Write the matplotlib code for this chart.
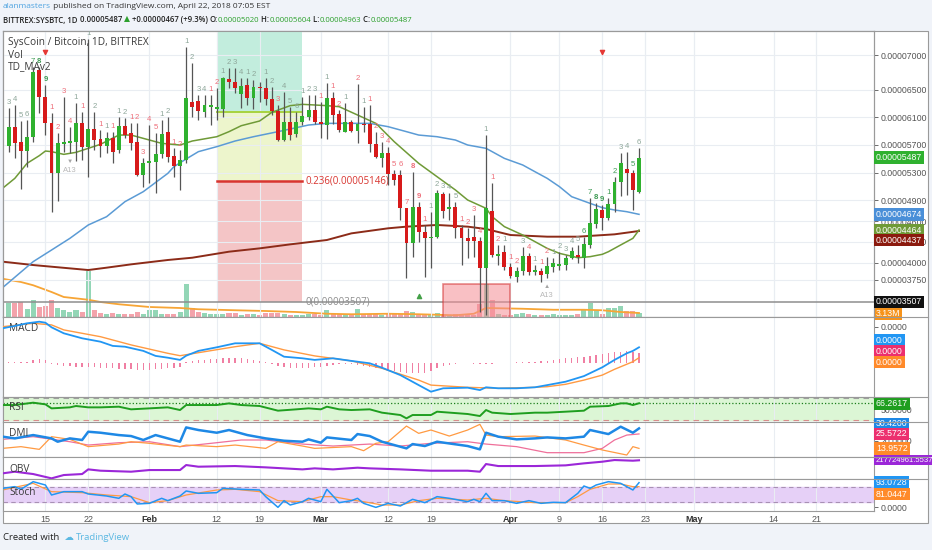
import matplotlib.pyplot as plt
from matplotlib.lines import Line2D
from matplotlib.patches import Rectangle

W, H = 932, 550
UI_FONT = ['Open Sans', 'DejaVu Sans']
AX_FONT = ['Liberation Sans', 'DejaVu Sans']
plt.rcParams['font.family'] = AX_FONT

# ---------------- data ----------------
# day 0 = Jan 9 2018, one daily candle up to Apr 22 (day 103)
tick_days = [6, 13, 23, 34, 41, 51, 62, 69, 82, 90, 97, 104, 112, 125, 132]
tick_labels = ['15', '22', 'Feb', '12', '19', 'Mar', '12', '19', 'Apr', '9', '16', '23', 'May', '14', '21']
month_labels = ['Feb', 'Mar', 'Apr', 'May']

# prices in satoshi (1e-8 BTC)
opens = [5689, 5964, 5738, 5612, 5819, 6783, 6398, 6022, 5299, 5709,
         5723, 5738, 6012, 5675, 5925, 5786, 5689, 5795, 5627, 5978,
         5877, 5738, 5265, 5434, 5458, 5569, 5880, 5545, 5400, 5482,
         6325, 6335, 6181, 6253, 6219, 6219, 6648, 6605, 6431, 6566,
         6383, 6528, 6528, 6364, 6190, 5771, 6026, 5858, 6026, 6109,
         6205, 6026, 5988, 6383, 6147, 5892, 6026, 5906, 6002, 5998,
         5713, 5516, 5579, 5275, 5265, 4784, 4278, 4798, 4437, 4350,
         4374, 4991, 4769, 4798, 4504, 4350, 4374, 4316, 3916, 4745,
         4099, 4157, 3940, 3796, 3883, 4099, 3868, 3883, 3830, 3931,
         3955, 3964, 4070, 4109, 4070, 4254, 4552, 4760, 4649, 4841,
         5169, 5352, 5289, 5025]
highs = [6229, 6277, 6046, 6060, 6831, 6831, 6566, 6157, 5868, 6398,
         5964, 6301, 6181, 7230, 6181, 5916, 5892, 5892, 6109, 6084,
         6012, 6012, 5506, 5988, 5868, 6060, 6109, 5651, 5627, 7120,
         6879, 6422, 6422, 6422, 6518, 6687, 6807, 6807, 6663, 6663,
         6639, 6614, 6663, 6542, 6277, 6470, 6253, 6181, 6398, 6422,
         6422, 6325, 6590, 6470, 6205, 6301, 6060, 6576, 6253, 6277,
         5892, 5747, 5675, 5338, 5338, 4790, 5313, 4880, 4543, 4735,
         5049, 5025, 5001, 4880, 4543, 4495, 4687, 4374, 5843, 5145,
         4254, 4254, 3989, 3940, 4229, 4133, 3964, 3916, 4085, 4061,
         4157, 4109, 4220, 4254, 4374, 4928, 4856, 4832, 4928, 5241,
         5579, 5603, 5338, 5651]
lows = [5593, 5516, 5063, 5386, 5747, 6157, 5843, 4735, 4894, 5603,
        5579, 5468, 5482, 5241, 5627, 5530, 5579, 5444, 5579, 5795,
        5627, 5255, 5097, 5145, 5001, 5506, 5458, 5241, 5049, 5434,
        6109, 6060, 6109, 5988, 6060, 6109, 6518, 6446, 6229, 6277,
        6219, 6325, 6277, 6133, 5757, 5757, 5771, 5819, 5988, 6060,
        5998, 5795, 5786, 5998, 5892, 5880, 5892, 5723, 5892, 5593,
        5506, 5386, 5121, 5121, 4615, 3772, 4085, 4302, 3796, 3916,
        4350, 4639, 4615, 4350, 3964, 4061, 4085, 3290, 3242, 4085,
        3964, 3892, 3772, 3724, 3820, 3820, 3820, 3724, 3772, 3868,
        3892, 3892, 4051, 3988, 3916, 4205, 4494, 4470, 4615, 4735,
        4967, 4976, 4759, 5001]
closes = [5964, 5733, 5612, 5819, 6759, 6398, 6012, 5299, 5723, 5738,
          5757, 6012, 5675, 5930, 5771, 5689, 5795, 5593, 5978, 5843,
          5733, 5265, 5434, 5468, 5569, 5860, 5530, 5400, 5482, 6374,
          6243, 6190, 6277, 6277, 6253, 6663, 6614, 6518, 6557, 6383,
          6542, 6522, 6364, 6190, 5771, 6026, 5843, 6026, 6123, 6205,
          6026, 5998, 6374, 6133, 5916, 6026, 5901, 6002, 5988, 5709,
          5530, 5579, 5275, 5193, 4793, 4278, 4798, 4437, 4350, 4374,
          5001, 4745, 4798, 4504, 4360, 4316, 4311, 3916, 4784, 4109,
          4123, 3940, 3810, 3883, 4099, 3868, 3892, 3820, 3950, 3998,
          3974, 4070, 4172, 4075, 4263, 4567, 4769, 4639, 4846, 5169,
          5434, 5289, 5049, 5516]
# volume, millions
volumes = [11.2, 11.2, 12.0, 6.4, 13.6, 8.0, 8.8, 13.6, 7.2, 5.6,
           4.0, 5.6, 4.0, 36.8, 5.6, 3.2, 2.4, 3.2, 2.4, 2.4,
           2.4, 4.0, 2.4, 5.6, 5.6, 2.4, 2.4, 2.4, 4.0, 26.4,
           7.2, 4.0, 3.2, 2.4, 2.4, 2.4, 3.2, 3.2, 1.6, 2.4,
           2.4, 1.6, 3.2, 3.2, 3.2, 2.4, 1.6, 1.6, 1.6, 2.4,
           2.4, 1.6, 5.6, 2.4, 2.4, 2.4, 2.4, 6.4, 2.4, 2.4,
           2.4, 1.6, 2.4, 2.4, 2.4, 4.8, 4.0, 2.4, 1.6, 2.4,
           3.2, 2.4, 1.6, 2.4, 2.4, 2.4, 1.6, 10.4, 26.4, 13.6,
           2.4, 1.6, 1.6, 2.4, 3.2, 2.4, 1.6, 1.6, 1.6, 2.4,
           1.6, 1.6, 1.6, 2.4, 5.6, 11.2, 5.6, 2.4, 7.2, 7.2,
           8.8, 4.8, 4.8, 3.13]
vol_ma_days = [-1, 2, 4, 7, 9, 13, 15, 18, 23, 28, 31, 37, 42, 47, 52, 56, 62, 67, 73, 76, 78, 84, 89, 94, 97, 100, 103]
vol_ma = [30.6, 28, 25.4, 20, 16, 13.8, 12, 10.2, 8, 7.2, 6.2, 5.4, 4.8, 4, 2.6, 2.2, 2.6, 2.2, 1.4, 2.6, 7.2, 6.6, 5.8, 5.8, 5.4, 4, 3.2]

# moving averages on price
ma_fast_days = [-1, 1, 3, 5, 6, 7, 9, 11, 13, 15, 18, 20, 22, 25, 28, 30, 34, 36, 38, 41, 43, 46, 48, 52, 54, 57, 60,
                63, 67, 70, 73, 75, 78, 79, 81, 84, 86, 88, 90, 93, 95, 97, 98, 100, 102, 103]
ma_fast = [5073, 5217, 5434, 5545, 5612, 5603, 5564, 5593, 5651, 5709, 5843, 5843, 5795, 5723, 5699, 5757, 5819, 5892,
           5978, 6046, 6171, 6268, 6287, 6268, 6253, 6133, 6012, 5747, 5434, 5241, 5049, 4904, 4784, 4663, 4519, 4398,
           4302, 4205, 4133, 4070, 4085, 4119, 4157, 4254, 4350, 4470]
ma_mid_days = [-1, 4, 7, 10, 13, 16, 19, 22, 26, 27, 29, 31, 34, 37, 40, 44, 49, 52, 56, 59, 62, 65, 67, 70, 73, 75,
               78, 79, 81, 84, 86, 88, 90, 92, 95, 97, 99, 101, 103]
ma_mid = [3637, 4013, 4181, 4350, 4543, 4663, 4880, 5025, 5289, 5386, 5497, 5603, 5675, 5757, 5819, 5892, 5988, 6012,
          6012, 6012, 5964, 5892, 5843, 5819, 5771, 5699, 5651, 5603, 5506, 5410, 5313, 5217, 5097, 4952, 4856, 4793,
          4760, 4735, 4697]
ma_slow_days = [-1, 4, 10, 13, 16, 20, 26, 30, 36, 41, 46, 52, 56, 62, 65, 70, 75, 78, 82, 88, 93, 99, 103]
ma_slow = [4013, 3964, 3916, 3892, 3926, 3974, 4037, 4070, 4157, 4205, 4263, 4326, 4422, 4495, 4519, 4543, 4519, 4485,
           4398, 4374, 4374, 4408, 4456]

# fibonacci drawing (Feb 12 - Feb 26) and rectangle (Mar 21 - Apr 1)
fib_days = [34, 48]
fib_prices = [3430, 5183, 6176, 10860]   # levels 0, 0.236, 0.382, 1
rect_days = [71, 82]
rect_prices = [3200, 3694]

# TD sequential counts: (candle, text, kind)
td_counts = [(0, '3', 's'), (1, '4', 's'), (2, '5', 's'), (3, '6', 's'), (4, '7', 'G'), (5, '8', 'G'), (6, '9', 'G'),
             (7, '1', 'r'), (8, '2', 'r'), (9, '3', 'r'), (10, '4', 'r'), (11, '1', 's'), (12, '1', 'r'), (13, '1', 's'),
             (14, '2', 's'), (15, '1', 'r'), (16, '1', 's'), (17, '1', 'r'), (18, '1', 's'), (19, '2', 's'),
             (20, '1', 'r'), (21, '2', 'r'), (22, '3', 'r'), (23, '4', 'r'), (24, '5', 'r'), (25, '1', 's'),
             (26, '2', 's'), (27, '1', 'r'), (28, '2', 'r'), (29, '1', 's'), (30, '2', 's'), (31, '3', 's'),
             (32, '4', 's'), (33, '1', 'r'), (34, '2', 'r'), (35, '1', 's'), (36, '2', 's'), (37, '3', 's'),
             (38, '4', 's'), (39, '1', 's'), (40, '2', 's'), (42, '1', 's'), (43, '2', 's'), (44, '3', 'r'),
             (45, '4', 's'), (46, '5', 's'), (47, '6', 's'), (48, '1', 's'), (49, '2', 's'), (50, '3', 's'),
             (51, '1', 'r'), (52, '1', 's'), (53, '1', 'r'), (54, '2', 'r'), (55, '1', 's'), (57, '2', 'r'),
             (58, '1', 's'), (59, '1', 'r'), (60, '2', 'r'), (61, '3', 'r'), (62, '4', 'r'), (63, '5', 'r'),
             (64, '6', 'r'), (65, '7', 'r'), (66, '8', 'r'), (67, '9', 'r'), (68, '1', 'r'), (69, '1', 's'),
             (70, '2', 's'), (71, '3', 's'), (72, '4', 's'), (73, '5', 's'), (74, '1', 'r'), (75, '2', 'r'),
             (76, '3', 'r'), (77, '4', 'r'), (78, '1', 's'), (79, '1', 'r'), (80, '2', 'r'), (81, '1', 's'),
             (82, '1', 'r'), (83, '2', 'r'), (84, '3', 's'), (85, '4', 'r'), (86, '1', 's'), (87, '1', 'r'),
             (88, '2', 'r'), (89, '1', 's'), (90, '2', 's'), (91, '3', 's'), (92, '4', 's'), (93, '5', 's'),
             (94, '6', 'G'), (95, '7', 'G'), (96, '8', 'G'), (97, '9', 'G'), (98, '1', 'G'), (99, '2', 'G'),
             (100, '3', 's'), (101, '4', 's'), (102, '5', 'G'), (103, '6', 's')]
sell_signal_days = [6, 97]
buy_signal_days = [67]

# MACD (satoshi)
macd_days = [-1, 1, 3, 5, 6, 7, 9, 12, 15, 17, 19, 22, 24, 26, 28, 29, 31, 34, 37, 41, 43, 45, 48, 50, 53, 56, 59, 61,
             64, 67, 69, 71, 75, 77, 78, 80, 83, 86, 88, 91, 94, 97, 99, 101, 102, 103]
macd = [172, 184, 197, 205, 200, 177, 147, 122, 105, 84, 80, 59, 34, 25, 14, 35, 59, 77, 97, 97, 64, 30, 22, 14, 22, 9,
        -3, -25, -62, -112, -145, -128, -125, -137, -123, -128, -128, -123, -112, -95, -67, -23, 14, 47, 59, 77]
signal_days = [-1, 4, 7, 9, 15, 20, 26, 28, 31, 37, 41, 45, 50, 56, 61, 67, 69, 75, 80, 86, 88, 91, 94, 97, 99, 102, 103]
signal = [180, 197, 189, 164, 130, 89, 47, 35, 50, 80, 97, 64, 34, 9, -28, -87, -112, -123, -128, -123, -120, -108, -87,
          -62, -33, 5, 25]
macd_hist = [1.5, 1.5, 1.5, 2.5, 15, 20, 15, -7.5, -12.5, -15, -17.5, -20, -20, -20, -22.5, -25, -25, -27.5, -30, -30,
             -32.5, -35, -35, -35, -32.5, -30, -27.5, -25, -22.5, 2.5, 10, 12.5, 15, 17.5, 20, 22.5, 25, 25, 22.5, 20,
             15, 10, 2.5, -5, -15, -20, -25, -27.5, -27.5, -25, -22.5, -20, -15, -10, -7.5, -5, -7.5, -10, -15, -20,
             -25, -30, -35, -40, -45, -50, -50, -50, -50, -40, -25, -15, -10, -5, -2.5, -2.5, -5, -5, -7.5, -5,
             -2.5, 1, 1, 1.5, 2.5, 2.5, 5, 7.5, 10, 15, 20, 22.5, 25, 27.5, 30, 35, 40, 45, 50, 55,
             55, 57.5, 55, 50]

# RSI
rsi_days = [-1, 1, 4, 6, 7, 10, 11, 13, 15, 18, 20, 23, 26, 28, 29, 34, 36, 38, 41, 44, 47, 49, 51, 52, 54, 56, 59, 61,
            64, 65, 66, 69, 70, 75, 77, 78, 79, 82, 86, 88, 91, 94, 95, 98, 100, 101, 102, 103]
rsi = [61.4, 61.4, 67.9, 63.3, 52.2, 55.0, 58.7, 55.0, 55.0, 56.8, 49.5, 52.2, 55.0, 47.6, 61.4, 61.4, 66.0, 61.4, 58.7,
       45.8, 49.5, 52.2, 49.5, 56.8, 49.5, 47.6, 49.5, 40.3, 33.8, 24.6, 33.8, 33.8, 43.0, 36.6, 31.0, 47.6, 40.3, 36.6,
       40.3, 40.3, 43.0, 45.8, 56.8, 58.7, 66.0, 66.0, 61.4, 66.3]

# DMI
di_plus_days = [-1, 1, 4, 7, 8, 10, 12, 13, 15, 18, 20, 22, 24, 26, 28, 29, 31, 34, 36, 39, 42, 45, 48, 49, 51, 52, 56,
                57, 59, 61, 65, 66, 68, 70, 75, 77, 78, 80, 83, 86, 88, 91, 94, 95, 98, 100, 102, 103]
di_plus = [23.4, 22.0, 24.7, 22.0, 19.3, 22.0, 20.7, 27.4, 26.6, 24.7, 23.9, 20.7, 24.7, 22.0, 19.3, 30.9, 28.8, 26.6,
           28.8, 24.7, 22.0, 20.1, 19.3, 21.2, 18.5, 22.8, 20.7, 25.5, 23.9, 19.3, 13.9, 17.4, 15.8, 19.3, 15.8, 13.1,
           26.6, 23.4, 21.2, 22.0, 22.8, 22.0, 23.4, 28.8, 25.5, 31.5, 26.6, 30.1]
di_minus_days = [-1, 2, 5, 7, 10, 13, 18, 20, 23, 28, 29, 34, 37, 42, 44, 48, 50, 56, 58, 60, 62, 65, 67, 69, 72, 75,
                 77, 78, 80, 86, 91, 94, 97, 101, 102, 103]
di_minus = [13.9, 15.3, 13.1, 23.4, 21.2, 15.3, 17.4, 19.3, 18.0, 15.3, 16.6, 15.3, 16.6, 13.9, 19.3, 15.8, 13.9, 15.3,
            12.0, 18.0, 19.3, 32.0, 26.1, 28.8, 23.9, 28.8, 33.4, 24.7, 23.4, 23.9, 20.7, 16.6, 12.6, 8.5, 15.3, 13.9]
adx_days = [-1, 4, 10, 13, 18, 23, 28, 34, 38, 42, 48, 53, 59, 64, 69, 75, 78, 83, 88, 94, 97, 99, 101, 103]
adx = [21.2, 23.4, 19.3, 16.6, 18.5, 19.3, 15.3, 18.5, 20.7, 20.7, 17.4, 15.8, 17.4, 15.8, 18.0, 19.3, 17.4, 15.3,
       10.4, 10.4, 13.9, 20.7, 24.7, 25.6]

# OBV (millions)
obv_days = [-1, 1, 4, 7, 9, 12, 13, 15, 20, 23, 28, 29, 31, 37, 42, 48, 50, 53, 57, 59, 64, 69, 75, 77, 78, 80, 86, 91,
            94, 97, 99, 102, 103]
obv = [152.4, 160.7, 149.0, 127.4, 144.0, 149.0, 172.3, 165.7, 160.7, 169.0, 169.0, 194.0, 185.7, 189.0, 182.4, 172.3,
       177.4, 172.3, 180.7, 177.4, 172.3, 165.7, 165.7, 160.7, 199.0, 189.0, 189.0, 192.4, 202.4, 210.7, 219.0, 215.7,
       217.7]

# Stochastic
stoch_k_days = [-1, 1, 2, 4, 6, 7, 9, 12, 13, 16, 18, 19, 20, 21, 23, 25, 26, 28, 29, 31, 34, 35, 38, 41, 42, 44, 45,
                46, 48, 49, 51, 52, 54, 56, 57, 58, 60, 62, 64, 66, 68, 70, 72, 75, 76, 77, 78, 79, 81, 83, 85, 87,
                89, 91, 93, 94, 95, 96, 98, 100, 102, 103]
stoch_k = [73.7, 80.1, 69.9, 99.3, 86.5, 48.1, 60.9, 60.9, 51.9, 44.2, 35.3, 51.9, 41.7, 13.5, 16.0, 35.3, 26.3, 44.2,
           63.5, 54.5, 57.0, 73.7, 69.9, 67.3, 41.7, 0.6, 26.3, 9.6, 22.4, 35.3, 22.4, 69.9, 18.6, 26.3, 35.3, 16.0,
           0.5, 16.0, 5.8, 31.4, 18.6, 41.7, 35.3, 22.4, 31.4, 22.4, 54.5, 26.3, 26.3, 16.0, 26.3, 16.0, 19.9, 18.6,
           54.5, 82.7, 73.7, 86.5, 99.3, 92.9, 67.3, 95.5]
stoch_d_days = [-1, 4, 7, 12, 16, 20, 23, 26, 29, 34, 37, 41, 44, 48, 51, 53, 56, 58, 61, 64, 67, 70, 75, 78, 81, 86,
                91, 93, 95, 98, 100, 102, 103]
stoch_d = [67.3, 92.9, 60.9, 57.0, 48.1, 41.7, 18.6, 26.3, 48.1, 67.3, 69.9, 60.9, 26.3, 22.4, 41.7, 41.7, 28.8, 22.4,
           9.6, 9.6, 26.3, 35.3, 28.8, 35.3, 26.3, 18.6, 18.6, 41.7, 69.9, 90.4, 90.4, 80.1, 80.1]

# ---------------- styling ----------------
UP, DOWN = '#2fb12f', '#d71a1a'
GRID = '#e9edf2'
FRAME = '#9a9a9a'
XLIM = (-0.93, 141.4)
TD_COLORS = {'s': '#8ea79a', 'G': '#3f9b55', 'r': '#ee6f7a'}

fig = plt.figure(figsize=(W / 100, H / 100), dpi=100, facecolor='#f0f3f9')
fig.patches.append(Rectangle((3 / W, 1 - 523 / H), 925 / W, 492 / H, transform=fig.transFigure,
                             facecolor='white', edgecolor=FRAME, lw=0.8, zorder=-5))


def panel(top, bottom):
    a = fig.add_axes([3 / W, 1 - bottom / H, 871 / W, (bottom - top) / H])
    a.set_xlim(*XLIM)
    a.set_xticks(tick_days)
    a.tick_params(axis='x', length=0, labelbottom=False)
    a.grid(True, axis='x', color=GRID, lw=0.8)
    a.set_axisbelow(True)
    a.yaxis.tick_right()
    a.tick_params(axis='y', labelsize=6.3, colors='#555555', length=3, pad=2, width=0.6)
    for s in a.spines.values():
        s.set_color(FRAME)
        s.set_linewidth(0.8)
    return a


def tag(a, y, text, color, dy=0, fg='white', size=6.3):
    a.annotate(text, xy=(1, y), xycoords=a.get_yaxis_transform(), xytext=(1.4, dy),
               textcoords='offset points', ha='left', va='center', fontsize=size, color=fg,
               bbox=dict(boxstyle='square,pad=0.22', fc=color, ec='none'), annotation_clip=False, zorder=30)


def panel_title(a, text, yfrac):
    a.text(0.007, yfrac, text, transform=a.transAxes, fontsize=7.3, color='#3a3a3a', va='center', family=UI_FONT)


# ---------------- main price panel ----------------
ax_vol = panel(31, 317)
ax_vol.set_ylim(0, 228.8)
ax_vol.set_yticks([])
ax = panel(31, 317)
ax.patch.set_visible(False)
ax.set_ylim(3213, 7347)
price_ticks = [3750, 4000, 4300, 4600, 4900, 5300, 5700, 6100, 6500, 7000]
ax.set_yticks(price_ticks)
ax.set_yticklabels([f'{p * 1e-8:.8f}' for p in price_ticks])
ax.grid(True, axis='y', color=GRID, lw=0.8)

days = list(range(len(closes)))
up = [c >= o for o, c in zip(opens, closes)]
vol_colors = ['#93d6b6' if u else '#f3a3ab' for u in up]
ax_vol.bar(days, volumes, width=0.82, color=vol_colors, zorder=2)
ax_vol.plot(vol_ma_days, vol_ma, color='#f7a535', lw=1.3, zorder=3)

# fib retracement
fx = fib_days
ax.fill_between(fx, fib_prices[0], fib_prices[1], color='#f4c5c6', lw=0, zorder=0.5)
ax.fill_between(fx, fib_prices[1], fib_prices[2], color='#edf5cc', lw=0, zorder=0.5)
ax.fill_between(fx, fib_prices[2], fib_prices[3], color='#c2eddd', lw=0, zorder=0.5)
ax.plot(fx, [fib_prices[1]] * 2, color='#d8342f', lw=1.8, zorder=1)
ax.plot(fx, [fib_prices[2]] * 2, color='#a7d33f', lw=1.4, zorder=1)
ax.axhline(fib_prices[0], color='#8e8e8e', lw=1.1, zorder=1)
ax.text(fx[1] + 0.5, fib_prices[1], '0.236(0.00005146)', color='#d8342f', fontsize=7, va='center', family=UI_FONT)
ax.text(fx[1] + 0.5, fib_prices[0], '0(0.00003507)', color='#8e8e8e', fontsize=7, va='center', family=UI_FONT)

ax.add_patch(Rectangle((rect_days[0], rect_prices[0]), rect_days[1] - rect_days[0], rect_prices[1] - rect_prices[0],
                       facecolor='#f58d95', alpha=0.55, edgecolor='#d32f2f', lw=1.2, zorder=1))

# moving averages
ax.plot(ma_slow_days, ma_slow, color='#8c2b18', lw=1.4, zorder=2)
ax.plot(ma_mid_days, ma_mid, color='#5b9bd5', lw=1.1, zorder=2)
ax.plot(ma_fast_days, ma_fast, color='#6f9a37', lw=1.1, zorder=2)

# candles
ax.vlines(days, lows, highs, color='#555555', lw=0.9, zorder=3)
bodies = [max(abs(c - o), 18) for o, c in zip(opens, closes)]
bottoms = [min(o, c) for o, c in zip(opens, closes)]
ax.bar(days, bodies, bottom=bottoms, width=0.64, color=[UP if u else DOWN for u in up], zorder=4)

for d, txt, kind in td_counts:
    ax.annotate(txt, (d, highs[d]), xytext=(0, 1.5), textcoords='offset points', ha='center', va='bottom',
                fontsize=5.6, color=TD_COLORS[kind], zorder=5, clip_on=True,
                fontweight='bold' if txt in ('8', '9') else 'normal')
ax.scatter(sell_signal_days, [0.927] * len(sell_signal_days), transform=ax.get_xaxis_transform(),
           marker='v', s=9, color='#e53935', zorder=5)
ax.scatter(buy_signal_days, [0.075] * len(buy_signal_days), transform=ax.get_xaxis_transform(),
           marker='^', s=9, color='#43a047', zorder=5)
for d, mark in [(10, '\u25bc'), (88, '\u25b2')]:
    ax.annotate(mark, (d, lows[d]), xytext=(0, -4), textcoords='offset points',
                ha='center', va='top', fontsize=4.5, color='#a5a5a5')
    ax.annotate('A13', (d, lows[d]), xytext=(0, -10), textcoords='offset points', ha='center', va='top',
                fontsize=5.5, color='#b8b8b8')

for y_px, txt in [(43, 'SysCoin / Bitcoin, 1D, BITTREX'), (56, 'Vol'), (67, 'TD_MAv2')]:
    fig.text(8 / W, 1 - y_px / H, txt, fontsize=7.3, color='#3a3a3a', va='center', family=UI_FONT)

tag(ax, closes[-1], '0.00005487', UP)
tag(ax, ma_mid[-1], '0.00004674', '#4a8fd8')
tag(ax, ma_fast[-1], '0.00004464', '#6f9a37')
tag(ax, ma_slow[-1], '0.00004437', '#8b1a0e', dy=-6.5)
tag(ax, fib_prices[0], '0.00003507', '#111111')
tag(ax_vol, volumes[-1], '3.13M', '#f7931a')

# ---------------- MACD ----------------
am = panel(317, 397)
am.set_ylim(-171.5, 228.5)
am.set_yticks([180])
am.set_yticklabels(['0.0000'])
am.bar(days, macd_hist, width=0.22, color='#f07fa3', zorder=2)
am.plot(signal_days, signal, color='#ff9a42', lw=1.0, zorder=3)
am.plot(macd_days, macd, color='#2196f3', lw=1.3, zorder=4)
panel_title(am, 'MACD', 0.86)
tag(am, macd[-1], '0.0000', '#2196f3', dy=4.8)
tag(am, macd_hist[-1], '0.0000', '#ec2f6e', dy=0.8)
tag(am, signal[-1], '0.0000', '#ff8a2a', dy=-3.1)

# ---------------- RSI ----------------
ar = panel(397, 422)
ar.set_ylim(14.5, 83.6)
ar.set_yticks([50])
ar.set_yticklabels(['50.0000'])
ar.axhspan(20, 80, color='#dcf6d5', zorder=0)
ar.axhline(80, color='#9e9e9e', lw=0.8, ls=(0, (5, 4)))
ar.axhline(20, color='#d98c8c', lw=0.8, ls=(0, (5, 4)))
ar.axhline(rsi[-1], color='#1b7d1b', lw=0.9, ls=':')
ar.plot(rsi_days, rsi, color='#1f9e1f', lw=1.4, zorder=3)
panel_title(ar, 'RSI', 0.56)
tag(ar, rsi[-1], '66.2617', '#1f9e1f')

# ---------------- DMI ----------------
ad = panel(422, 457)
ad.set_ylim(6.9, 35.3)
ad.set_yticks([20])
ad.set_yticklabels(['20.0000'])
ad.plot(adx_days, adx, color='#ef6f9a', lw=0.9, zorder=2)
ad.plot(di_minus_days, di_minus, color='#ff9a42', lw=0.9, zorder=2)
ad.plot(di_plus_days, di_plus, color='#1e88e5', lw=1.8, zorder=3)
panel_title(ad, 'DMI', 0.66)
tag(ad, di_plus[-1], '30.4200', '#1e88e5', dy=3.2)
tag(ad, adx[-1], '25.5722', '#ec2f6e')
tag(ad, di_minus[-1], '13.9572', '#ff8a2a')

# ---------------- OBV ----------------
ao = panel(457, 479)
ao.set_ylim(124.2, 234.2)
ao.set_yticks([])
ao.plot(obv_days, obv, color='#9b27d8', lw=1.5, zorder=3)
panel_title(ao, 'OBV', 0.45)
tag(ao, obv[-1], '217724961.5537', '#9b27d8', size=5.5)

# ---------------- Stoch ----------------
ast = panel(479, 511)
ast.set_ylim(-13.5, 109.6)
ast.set_yticks([0])
ast.set_yticklabels(['0.0000'])
ast.axhspan(20, 80, color='#e6d0f7', zorder=0)
ast.axhline(80, color='#a890b4', lw=0.8, ls=(0, (4, 3)))
ast.axhline(20, color='#a890b4', lw=0.8, ls=(0, (4, 3)))
ast.plot(stoch_d_days, stoch_d, color='#ff9a42', lw=0.9, zorder=2)
ast.plot(stoch_k_days, stoch_k, color='#2196f3', lw=1.1, zorder=3)
panel_title(ast, 'Stoch', 0.59)
tag(ast, stoch_k[-1], '93.0728', '#2196f3')
tag(ast, stoch_d[-1], '81.0447', '#ff8a2a', dy=-5.3)

ast.tick_params(axis='x', labelbottom=True, labelsize=6.5, colors='#555555', pad=3)
ast.set_xticklabels(tick_labels)
for lab in ast.get_xticklabels():
    if lab.get_text() in month_labels:
        lab.set_fontweight('bold')
        lab.set_color('#333333')

# separators through the price scale
for y_px in [317, 397, 422, 457, 479]:
    fig.add_artist(Line2D([874 / W, 928 / W], [1 - y_px / H] * 2, color=FRAME, lw=0.8))

# ---------------- header / footer ----------------
renderer = fig.canvas.get_renderer()


def text_run(x_px, y_px, parts, size):
    x = x_px
    for s, color, weight in parts:
        t = fig.text(x / W, 1 - y_px / H, s, color=color, fontsize=size, fontweight=weight,
                     family=UI_FONT, ha='left', va='center')
        x += t.get_window_extent(renderer).width
    return x


DARK = '#222222'
GREEN = '#2ca02c'
text_run(3, 7, [('alanmasters', '#4ea3e0', 'normal'),
                (' published on TradingView.com, April 22, 2018 07:05 EST', '#333333', 'normal')], 6.0)
text_run(3, 20, [('BITTREX:SYSBTC, 1D', DARK, 'semibold'), (' 0.00005487 ', DARK, 'semibold'),
                 ('\u25b2', GREEN, 'normal'), (' +0.00000467 (+9.3%) ', DARK, 'semibold'),
                 ('O:', DARK, 'semibold'), ('0.00005020', GREEN, 'normal'),
                 (' H:', DARK, 'semibold'), ('0.00005604', GREEN, 'normal'),
                 (' L:', DARK, 'semibold'), ('0.00004963', GREEN, 'normal'),
                 (' C:', DARK, 'semibold'), ('0.00005487', GREEN, 'normal')], 5.6)
text_run(3, 537, [('Created with ', '#222222', 'normal'), (' \u2601 ', '#5bb8e2', 'normal'),
                  ('TradingView', '#5bb8e2', 'normal')], 6.8)

fig.savefig('out.png', dpi=100, facecolor=fig.get_facecolor())
